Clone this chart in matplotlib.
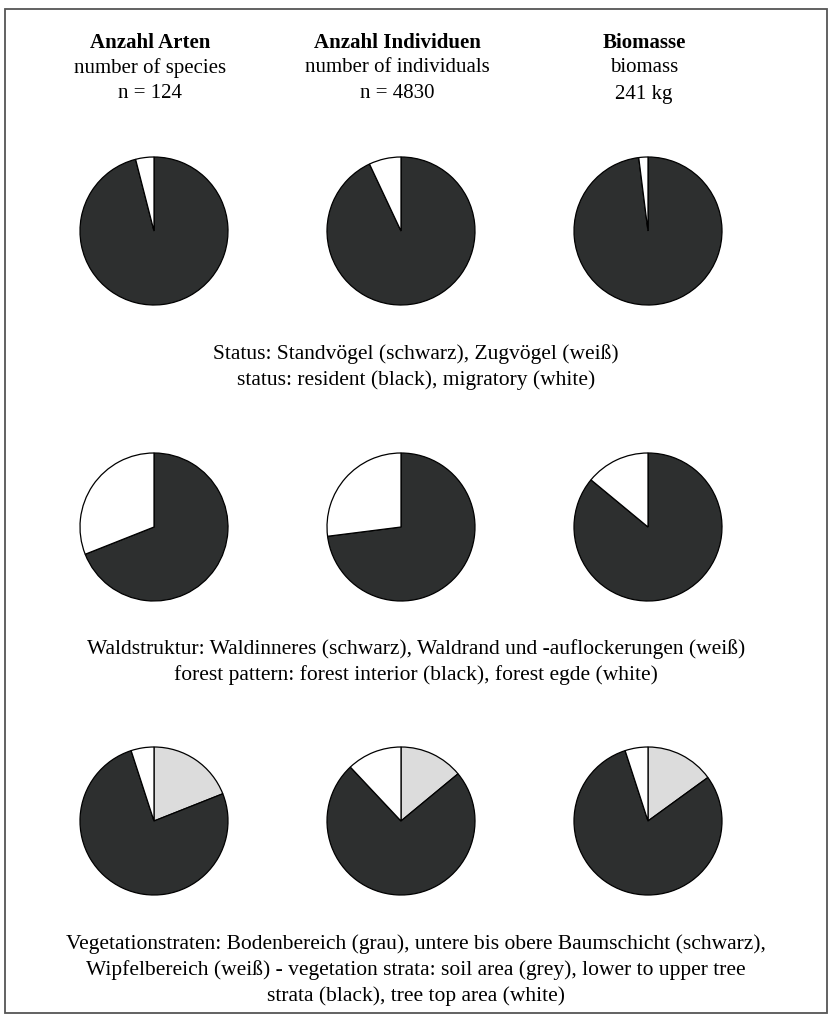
import matplotlib
matplotlib.use("Agg")
import matplotlib.pyplot as plt
from matplotlib.patches import Rectangle

W, H = 829, 1015
plt.rcParams["font.family"] = ["Liberation Serif", "DejaVu Serif"]

# column headers
head_de = ["Anzahl Arten", "Anzahl Individuen", "Biomasse"]
head_en = ["number of species", "number of individuals", "biomass"]
head_n = ["n = 124", "n = 4830", "241 kg"]

# shares in percent
status_migr = [4, 7, 2]            # white, rest black
forest_edge = [31, 27, 14]         # white, rest black
strata_soil = [19, 14, 15]         # grey
strata_top = [5, 12, 5]            # white, rest black

captions = [
    "Status: Standvögel (schwarz), Zugvögel (weiß)\n"
    "status: resident (black), migratory (white)",
    "Waldstruktur: Waldinneres (schwarz), Waldrand und -auflockerungen (weiß)\n"
    "forest pattern: forest interior (black), forest egde (white)",
    "Vegetationstraten: Bodenbereich (grau), untere bis obere Baumschicht (schwarz),\n"
    "Wipfelbereich (weiß) - vegetation strata: soil area (grey), lower to upper tree\n"
    "strata (black), tree top area (white)",
]

BLACK = "#2d2f2f"
GREY = "#dcdcdc"
WHITE = "#ffffff"

col_x = [154, 401, 648]
row_y = [231, 527, 821]
R = 74
caption_y = [352, 647, 942]

fig = plt.figure(figsize=(W / 100, H / 100), dpi=100)
fig.patches.append(Rectangle((5 / W, 2 / H), 822 / W, (H - 11) / H,
                             transform=fig.transFigure, fill=False,
                             edgecolor="#555555", lw=1.3))

for i in range(3):
    fx = (col_x[i] - 4) / W
    fig.text(fx, 1 - 43 / H, head_de[i], ha="center", va="center",
             fontsize=15, fontweight="bold")
    fig.text(fx, 1 - 68 / H, head_en[i], ha="center", va="center", fontsize=15)
    fig.text(fx, 1 - 94 / H, head_n[i], ha="center", va="center", fontsize=15)

rows = []
rows.append([([100 - w, w], [BLACK, WHITE]) for w in status_migr])
rows.append([([100 - w, w], [BLACK, WHITE]) for w in forest_edge])
rows.append([([g, 100 - g - t, t], [GREY, BLACK, WHITE])
             for g, t in zip(strata_soil, strata_top)])

for r, row in enumerate(rows):
    for c, (vals, cols) in enumerate(row):
        cx, cy = col_x[c], row_y[r]
        ax = fig.add_axes([(cx - R - 2) / W, 1 - (cy + R + 2) / H,
                           (2 * R + 4) / W, (2 * R + 4) / H])
        ax.pie(vals, colors=cols, startangle=90, counterclock=False,
               radius=1.0, wedgeprops=dict(edgecolor="black", linewidth=0.9))
        lim = (R + 2) / R
        ax.set_xlim(-lim, lim)
        ax.set_ylim(-lim, lim)
        ax.axis("off")

for cap, y in zip(captions, caption_y):
    fig.text(416 / W, 1 - (y - 8) / H, cap, ha="center", va="top",
             fontsize=15.5, linespacing=1.44)

plt.savefig("out.png", dpi=100)
plt.close()
